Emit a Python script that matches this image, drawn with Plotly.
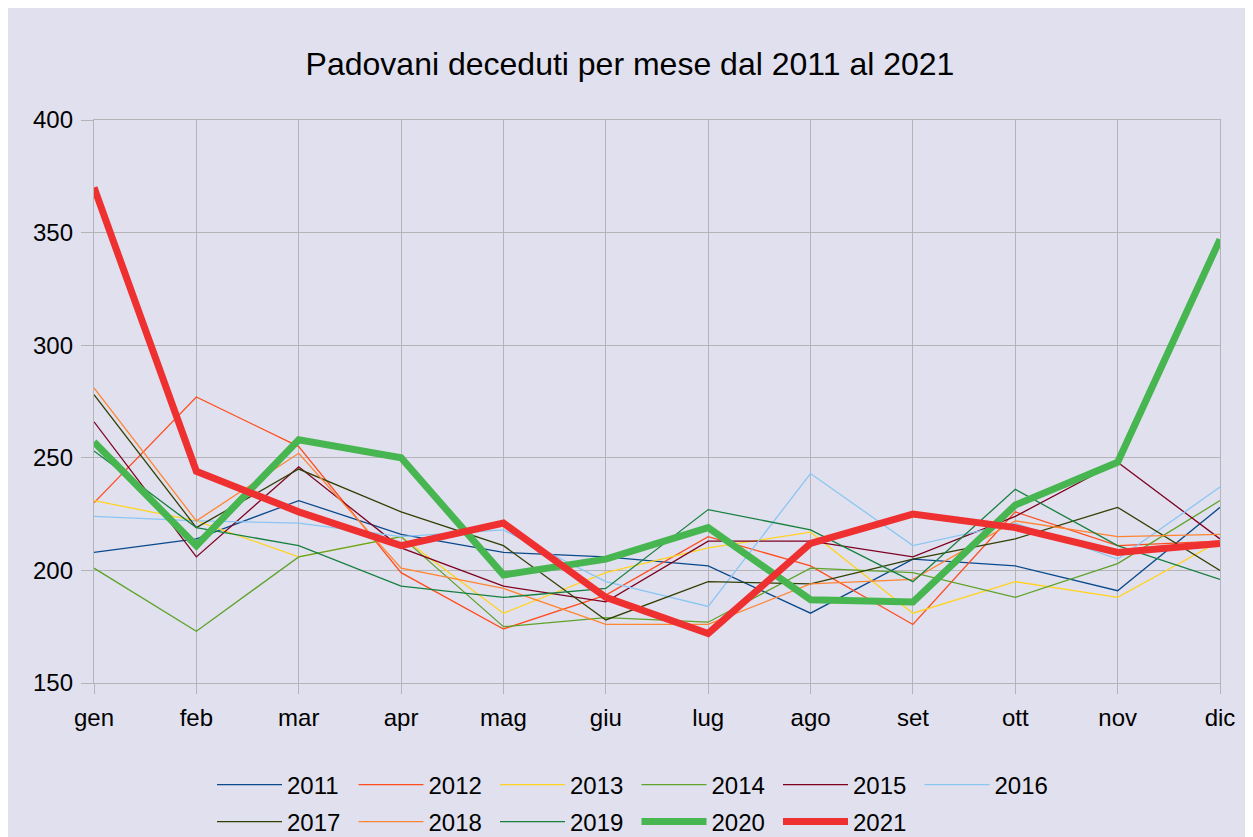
import plotly.graph_objects as go

months = ["gen", "feb", "mar", "apr", "mag", "giu", "lug", "ago", "set", "ott", "nov", "dic"]

y2011 = [208, 214, 231, 216, 208, 206, 202, 181, 205, 202, 191, 228]
y2012 = [230, 277, 255, 199, 174, 189, 215, 202, 176, 226, 211, 213]
y2013 = [231, 222, 206, 215, 181, 199, 210, 217, 181, 195, 188, 213]
y2014 = [201, 173, 206, 215, 175, 179, 177, 201, 199, 188, 203, 231]
y2015 = [266, 206, 246, 210, 193, 186, 213, 213, 206, 224, 248, 214]
y2016 = [224, 222, 221, 215, 218, 195, 184, 243, 211, 221, 205, 237]
y2017 = [278, 219, 245, 226, 211, 178, 195, 194, 205, 214, 228, 200]
y2018 = [281, 222, 252, 201, 192, 176, 176, 194, 196, 222, 215, 216]
y2019 = [253, 219, 211, 193, 188, 192, 227, 218, 195, 236, 211, 196]
y2020 = [257, 211, 258, 250, 198, 205, 219, 187, 186, 229, 248, 347]
y2021 = [370, 244, 226, 211, 221, 188, 172, 212, 225, 219, 208, 212]

series = [
    ("2011", y2011, "#0a4a8c", 1.3, "legend"),
    ("2012", y2012, "#ff4d1f", 1.3, "legend"),
    ("2013", y2013, "#ffd320", 1.3, "legend"),
    ("2014", y2014, "#5ea32a", 1.3, "legend"),
    ("2015", y2015, "#7e0021", 1.3, "legend"),
    ("2016", y2016, "#8ac6f2", 1.3, "legend"),
    ("2017", y2017, "#314004", 1.3, "legend2"),
    ("2018", y2018, "#ff8533", 1.3, "legend2"),
    ("2019", y2019, "#17803f", 1.3, "legend2"),
    ("2020", y2020, "#47b550", 7, "legend2"),
    ("2021", y2021, "#ee3030", 7, "legend2"),
]

BG = "#e1e0ee"
GRID = "#b4b4b8"
FONT = "Liberation Sans, Arial, sans-serif"

W, H = 1245, 829
L, R, T, B = 86, 33, 112, 154
PW, PH = W - L - R, H - T - B
PB = H - B

fig = go.Figure()
for name, vals, col, w, lg in series:
    fig.add_trace(go.Scatter(
        x=months, y=vals, name=name, mode="lines",
        line=dict(color=col, width=w), legend=lg,
    ))

legend_common = dict(
    orientation="h", xanchor="left", yanchor="middle",
    font=dict(family=FONT, size=24, color="#000000"),
    bgcolor="rgba(0,0,0,0)", itemwidth=65,
    entrywidth=61.5, entrywidthmode="pixels",
    tracegroupgap=0, itemclick=False,
)

leg_x = (204 - L) / PW

fig.update_layout(
    width=W, height=H,
    paper_bgcolor=BG, plot_bgcolor=BG,
    margin=dict(l=L, r=R, t=T, b=B, autoexpand=False),
    font=dict(family=FONT, size=24, color="#000000"),
    title=dict(
        text="Padovani deceduti per mese dal 2011 al 2021",
        font=dict(family=FONT, size=32, color="#000000"),
        x=622 / W, xref="container", xanchor="center",
        y=1 - 56 / H, yref="container", yanchor="middle",
    ),
    xaxis=dict(
        type="category", range=[0, 11],
        showgrid=True, gridcolor=GRID, gridwidth=1.3,
        showline=True, linecolor=GRID, linewidth=1.3, mirror=True,
        ticks="outside", ticklen=10, tickcolor=GRID, tickwidth=1.3,
        tickfont=dict(family=FONT, size=24, color="#000000"),
        ticklabelstandoff=3,
        zeroline=False,
    ),
    yaxis=dict(
        range=[150, 400], dtick=50, tick0=150,
        showgrid=True, gridcolor=GRID, gridwidth=1.3,
        showline=True, linecolor=GRID, linewidth=1.3, mirror=True,
        ticks="outside", ticklen=12, tickcolor=GRID, tickwidth=1.3,
        tickfont=dict(family=FONT, size=24, color="#000000"),
        ticklabelstandoff=3,
        zeroline=False,
    ),
    legend=dict(x=leg_x, y=(PB - 777) / PH, **legend_common),
    legend2=dict(x=leg_x, y=(PB - 814) / PH, **legend_common),
    showlegend=True,
)

fig.write_html("out.html")
